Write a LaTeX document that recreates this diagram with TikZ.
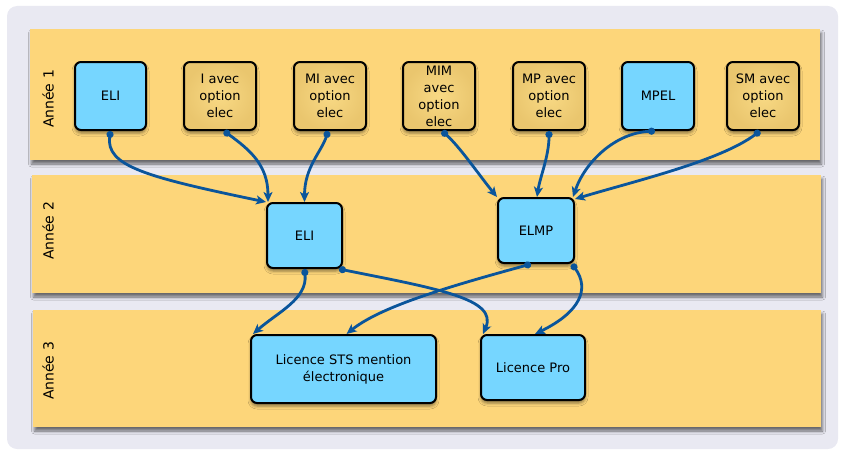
\documentclass[tikz,border=0pt]{standalone}
\usepackage{fontspec}
\setmainfont{DejaVu Sans}
\usetikzlibrary{shadows.blur,arrows.meta}
\definecolor{bgl}{RGB}{233,233,242}
\definecolor{lanec}{RGB}{253,214,122}
\definecolor{bluebox}{RGB}{118,214,255}
\definecolor{tanin}{RGB}{248,217,132}
\definecolor{tanout}{RGB}{234,198,110}
\definecolor{conncol}{RGB}{10,85,155}
\tikzset{
  lane/.style={fill=lanec, blur shadow={shadow xshift=1.5pt, shadow yshift=-4pt, shadow blur radius=3pt, shadow opacity=55}},
  boxb/.style={draw=black, line width=2pt, rounded corners=6pt, fill=bluebox,
    font=\fontsize{13}{17}\selectfont, align=center, inner sep=0pt,
    blur shadow={shadow xshift=0pt, shadow yshift=-3pt, shadow blur radius=3pt, shadow opacity=45}},
  boxt/.style={boxb, inner color=tanin, outer color=tanout},
  lanelabel/.style={rotate=90, font=\fontsize{14}{16}\selectfont},
  flow/.style={draw=conncol, line width=2.8pt, {Circle[length=7pt]}-{Stealth[length=10pt,width=9pt,inset=2.5pt]}}
}
\begin{document}
\begin{tikzpicture}[x=1pt,y=-1pt]
\useasboundingbox (0,0) rectangle (842,452);
\fill[bgl] (7,6) [rounded corners=10pt] rectangle (838,449);
% lanes
\path[lane] (30,29) rectangle (820,160);
\path[lane] (32,175) rectangle (821,293);
\path[lane] (33,310) rectangle (821,427);
\node[lanelabel] (lab1) at (48,99) {Année 1};
\node[lanelabel] (lab2) at (48,231) {Année 2};
\node[lanelabel] (lab3) at (48,371) {Année 3};
% year 1
\node[boxb, minimum width=71pt, minimum height=68pt] (eli1) at (110.5,96) {ELI};
\node[boxt, minimum width=72pt, minimum height=68pt] (iavec) at (220,96) {I avec\\option\\elec};
\node[boxt, minimum width=72pt, minimum height=68pt] (mi) at (330,96) {MI avec\\option\\elec};
\node[boxt, minimum width=72pt, minimum height=68pt] (mim) at (439,96) {MIM\\avec\\option\\elec};
\node[boxt, minimum width=72pt, minimum height=68pt] (mp) at (549,96) {MP avec\\option\\elec};
\node[boxb, minimum width=72pt, minimum height=68pt] (mpel) at (658,96) {MPEL};
\node[boxt, minimum width=72pt, minimum height=68pt] (sm) at (763,96) {SM avec\\option\\elec};
% year 2
\node[boxb, minimum width=75pt, minimum height=65pt] (eli2) at (304.5,235.5) {ELI};
\node[boxb, minimum width=76pt, minimum height=65pt] (elmp) at (536,230.5) {ELMP};
% year 3
\node[boxb, minimum width=185pt, minimum height=68pt] (sts) at (343.5,369) {Licence STS mention\\électronique};
\node[boxb, minimum width=104pt, minimum height=65pt] (pro) at (533,367.5) {Licence Pro};
% connectors
\draw[flow] (eli1.south) .. controls +(-5,35) and +(-120,-25) .. (eli2.north west);
\draw[flow] ([xshift=4pt]iavec.south) .. controls +(26,19) and +(0,-37) .. ([xshift=2pt]eli2.north west);
\draw[flow] ([xshift=-2pt]mi.south) .. controls +(-6,20) and +(0,-35) .. (eli2.north);
\draw[flow] ([xshift=3pt]mim.south) .. controls +(18,16) and +(-18,-22) .. (elmp.north west);
\draw[flow] (mp.south) .. controls +(0,25) and +(3,-20) .. ([xshift=1pt]elmp.north);
\draw[flow] ([xshift=-3pt]mpel.south) .. controls +(-40,2) and +(12,-35) .. ([xshift=-2pt]elmp.north east);
\draw[flow] ([xshift=-3pt]sm.south) .. controls +(-40,30) and +(60,-18) .. ([yshift=-2pt]elmp.north east);
\draw[flow] (eli2.south) .. controls +(3,30) and +(25,-22) .. ([xshift=3pt]sts.north west);
\draw[flow] ([xshift=-4pt]eli2.south east) .. controls +(100,20) and +(15,-35) .. ([xshift=3pt]pro.north west);
\draw[flow] ([xshift=-5pt]elmp.south) .. controls +(-80,22) and +(35,-28) .. ([xshift=3pt]sts.north);
\draw[flow] ([xshift=-3pt]elmp.south east) .. controls +(18,25) and +(45,-22) .. ([xshift=2pt]pro.north);
\end{tikzpicture}
\end{document}
